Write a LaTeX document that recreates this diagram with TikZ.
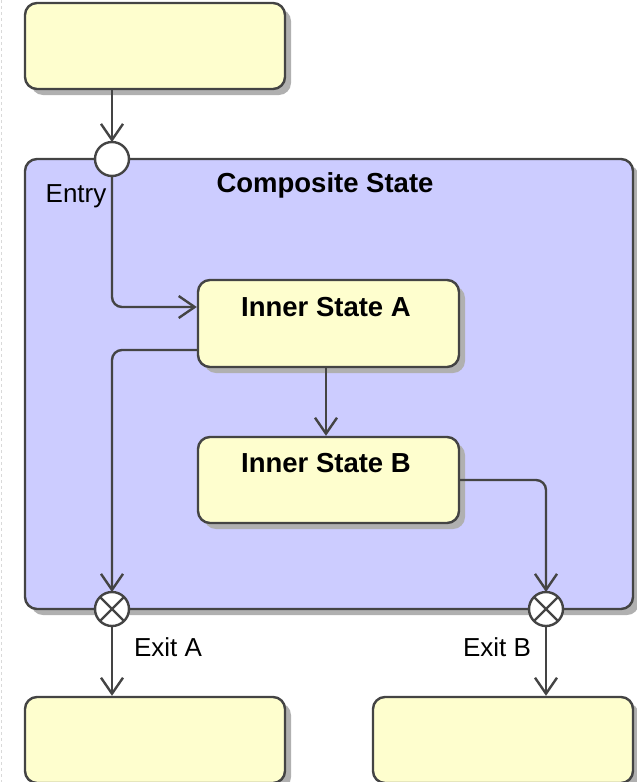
\documentclass[tikz,border=0pt]{standalone}
\usepackage{fontspec}
\setmainfont{Liberation Sans}
\usetikzlibrary{arrows.meta,shadows}
\definecolor{stateyellow}{RGB}{254,254,206}
\definecolor{compblue}{RGB}{204,204,255}
\definecolor{linegray}{RGB}{68,68,68}
\definecolor{shadowgray}{RGB}{176,176,176}
\begin{document}
\begin{tikzpicture}[x=1pt,y=-1pt,
  shade box/.style={drop shadow={shadow xshift=6pt, shadow yshift=-6pt, fill=shadowgray, opacity=1}},
  statebox/.style={draw=linegray, line width=2.4pt, fill=stateyellow, rounded corners=12pt,
    minimum width=260pt, minimum height=86pt, inner sep=0pt, shade box},
  compbox/.style={draw=linegray, line width=2.4pt, fill=compblue, rounded corners=12pt,
    minimum width=608pt, minimum height=450pt, inner sep=0pt, shade box},
  pseudo/.style={circle, draw=linegray, line width=2.4pt, fill=white, minimum size=34pt,
    inner sep=0pt, outer sep=0pt},
  conn/.style={draw=linegray, line width=2.4pt, rounded corners=10pt,
    -{Straight Barb[length=16pt,width=22pt,line width=2.4pt]}},
  plain/.style={draw=linegray, line width=2.4pt},
  lbl/.style={inner sep=0pt, font=\fontsize{26}{30}\selectfont},
  blbl/.style={inner sep=0pt, font=\fontsize{27.5}{32}\selectfont\bfseries}]
\useasboundingbox (0,0) rectangle (637,782);
\clip (0,0) rectangle (637,782);
\draw[dashed, black!15, line width=1pt] (1,0) -- (1,782);

\node[statebox] (top) at (155,46) {};
\node[compbox] (comp) at (329,384) {};
\node[blbl] (comptitle) at (325,185) {Composite State};
\node[statebox, minimum width=261pt, minimum height=87pt] (innerA) at (328.5,323.5) {};
\node[blbl] (titleA) at (326,307) {Inner State A};
\node[statebox, minimum width=261pt] (innerB) at (328.5,480) {};
\node[blbl] (titleB) at (326,463) {Inner State B};
\node[statebox] (botL) at (155,740) {};
\node[statebox] (botR) at (503,740) {};

\node[pseudo] (entry) at (112,159) {};
\node[lbl] (entrylbl) at (76,196) {Entry};
\node[pseudo] (exitA) at (112,609) {};
\node[pseudo] (exitB) at (546,609) {};
\draw[plain] (exitA.45) -- (exitA.225) (exitA.135) -- (exitA.-45);
\draw[plain] (exitB.45) -- (exitB.225) (exitB.135) -- (exitB.-45);
\node[lbl] (exitAlbl) at (168,647) {Exit A};
\node[lbl] (exitBlbl) at (497,647) {Exit B};

\draw[conn] (entry |- top.south) -- (entry.north);
\draw[conn] (entry.south) |- ([yshift=16.5pt]innerA.west);
\draw[conn] ([yshift=-26.5pt]innerA.west) -| (exitA.north);
\draw[conn] (innerA.south -| titleA) -- (innerB.north -| titleA);
\draw[conn] (innerB.east) -| (exitB.north);
\draw[conn] (exitA.south) -- (exitA |- botL.north);
\draw[conn] (exitB.south) -- (exitB |- botR.north);
\end{tikzpicture}
\end{document}
